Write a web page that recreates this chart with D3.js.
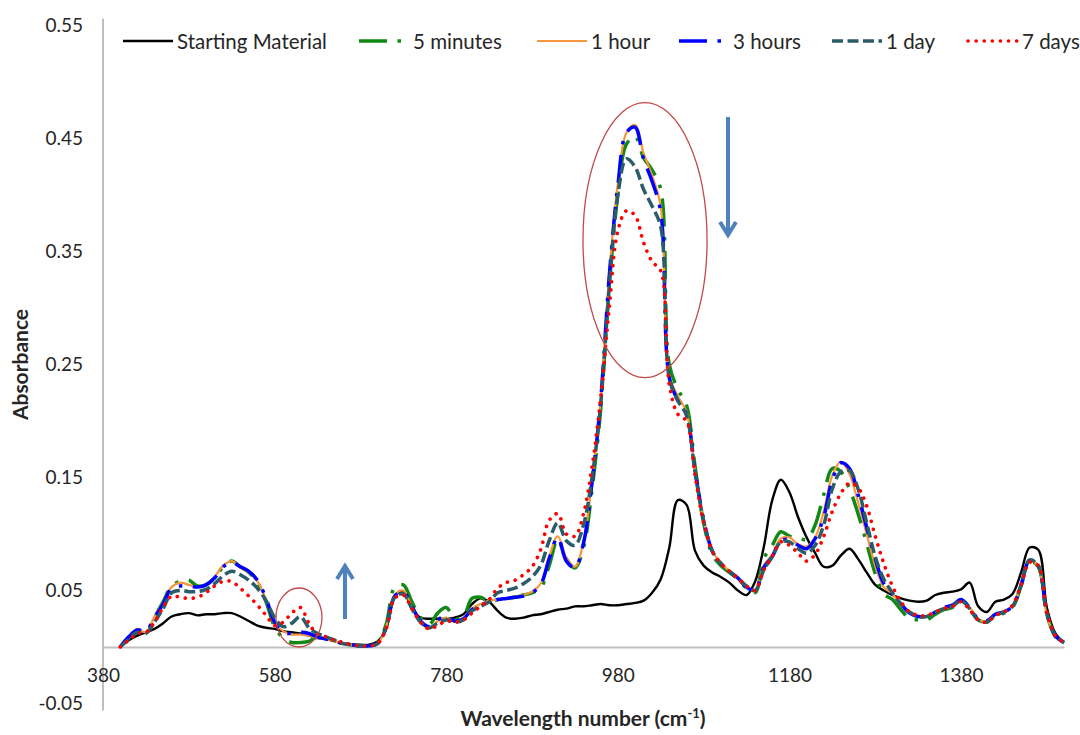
<!DOCTYPE html>
<html>
<head>
<meta charset="utf-8">
<script src="https://cdn.jsdelivr.net/npm/d3@7"></script>
<style>
  html, body { margin: 0; padding: 0; background: #ffffff; }
  svg { display: block; }
  text { font-family: Lato, "Open Sans", sans-serif; fill: #262626; }
</style>
</head>
<body>
<svg id="chart" width="1080" height="735"></svg>
<script>
// Wavenumber grid (cm-1) shared by every spectrum
const wavenumbers = [
  400, 410, 420, 430, 440, 450, 460, 470, 480, 490,
  500, 510, 520, 530, 540, 550, 560, 570, 580, 590,
  600, 610, 620, 630, 640, 650, 660, 670, 680, 690,
  700, 710, 720, 730, 740, 750, 760, 770, 780, 790,
  800, 810, 820, 830, 840, 850, 860, 870, 880, 890,
  900, 910, 920, 930, 940, 950, 960, 970, 980, 990,
  1000, 1010, 1020, 1030, 1040, 1050, 1060, 1070, 1080, 1090,
  1100, 1110, 1120, 1130, 1140, 1150, 1160, 1170, 1180, 1190,
  1200, 1210, 1220, 1230, 1240, 1250, 1260, 1270, 1280, 1290,
  1300, 1310, 1320, 1330, 1340, 1350, 1360, 1370, 1380, 1390,
  1400, 1410, 1420, 1430, 1440, 1450, 1460, 1470, 1480, 1490,
  1500
];

// Absorbance of each sample at the wavenumbers above
const startingMaterial = [
  0.000, 0.006, 0.010, 0.013, 0.016, 0.021, 0.027, 0.029, 0.030, 0.028,
  0.029, 0.029, 0.030, 0.030, 0.027, 0.023, 0.019, 0.017, 0.016, 0.014,
  0.013, 0.012, 0.010, 0.008, 0.007, 0.005, 0.003, 0.002, 0.002, 0.002,
  0.005, 0.016, 0.045, 0.049, 0.034, 0.026, 0.025, 0.025, 0.025, 0.026,
  0.029, 0.038, 0.043, 0.040, 0.032, 0.026, 0.025, 0.026, 0.028, 0.029,
  0.031, 0.033, 0.034, 0.036, 0.036, 0.037, 0.038, 0.037, 0.037, 0.038,
  0.039, 0.041, 0.048, 0.060, 0.088, 0.130, 0.126, 0.085, 0.072, 0.066,
  0.062, 0.057, 0.050, 0.046, 0.058, 0.088, 0.130, 0.148, 0.137, 0.115,
  0.097, 0.083, 0.071, 0.072, 0.081, 0.087, 0.078, 0.066, 0.055, 0.050,
  0.046, 0.043, 0.041, 0.040, 0.041, 0.046, 0.048, 0.049, 0.051, 0.057,
  0.036, 0.031, 0.040, 0.042, 0.047, 0.066, 0.088, 0.086, 0.035, 0.012,
  0.004
];

const fiveMinutes = [
  0.000, 0.008, 0.015, 0.013, 0.026, 0.040, 0.054, 0.058, 0.059, 0.054,
  0.055, 0.061, 0.071, 0.076, 0.071, 0.066, 0.057, 0.040, 0.018, 0.008,
  0.004, 0.004, 0.005, 0.009, 0.008, 0.005, 0.003, 0.002, 0.001, 0.001,
  0.004, 0.020, 0.053, 0.055, 0.040, 0.026, 0.020, 0.030, 0.035, 0.025,
  0.027, 0.043, 0.044, 0.040, 0.042, 0.043, 0.044, 0.046, 0.048, 0.052,
  0.072, 0.095, 0.078, 0.070, 0.088, 0.140, 0.210, 0.320, 0.400, 0.445,
  0.452, 0.433, 0.422, 0.405, 0.250, 0.228, 0.214, 0.160, 0.110, 0.082,
  0.072, 0.066, 0.060, 0.052, 0.048, 0.078, 0.090, 0.102, 0.098, 0.097,
  0.095, 0.108, 0.135, 0.158, 0.155, 0.140, 0.118, 0.092, 0.065, 0.047,
  0.042, 0.033, 0.025, 0.024, 0.024, 0.029, 0.033, 0.035, 0.041, 0.034,
  0.024, 0.022, 0.028, 0.030, 0.035, 0.054, 0.076, 0.071, 0.029, 0.009,
  0.004
];

const oneHour = [
  0.000, 0.008, 0.016, 0.013, 0.027, 0.039, 0.053, 0.057, 0.055, 0.053,
  0.055, 0.062, 0.072, 0.076, 0.070, 0.066, 0.058, 0.042, 0.021, 0.014,
  0.011, 0.011, 0.010, 0.008, 0.007, 0.005, 0.003, 0.002, 0.001, 0.001,
  0.003, 0.018, 0.046, 0.050, 0.035, 0.022, 0.016, 0.023, 0.026, 0.022,
  0.025, 0.034, 0.038, 0.041, 0.042, 0.043, 0.044, 0.046, 0.049, 0.056,
  0.080, 0.098, 0.079, 0.071, 0.093, 0.148, 0.218, 0.330, 0.410, 0.455,
  0.462, 0.437, 0.417, 0.390, 0.240, 0.222, 0.208, 0.155, 0.112, 0.085,
  0.075, 0.067, 0.061, 0.053, 0.050, 0.072, 0.082, 0.096, 0.097, 0.091,
  0.089, 0.097, 0.120, 0.152, 0.164, 0.153, 0.128, 0.100, 0.072, 0.053,
  0.047, 0.037, 0.030, 0.027, 0.027, 0.031, 0.034, 0.036, 0.042, 0.035,
  0.025, 0.022, 0.029, 0.031, 0.036, 0.055, 0.077, 0.071, 0.028, 0.009,
  0.004
];

const threeHours = [
  0.000, 0.009, 0.015, 0.014, 0.026, 0.038, 0.052, 0.054, 0.054, 0.053,
  0.055, 0.061, 0.071, 0.075, 0.071, 0.067, 0.059, 0.043, 0.022, 0.013,
  0.012, 0.013, 0.012, 0.009, 0.007, 0.005, 0.003, 0.002, 0.001, 0.001,
  0.003, 0.017, 0.045, 0.049, 0.036, 0.023, 0.018, 0.024, 0.027, 0.023,
  0.025, 0.033, 0.037, 0.040, 0.042, 0.043, 0.044, 0.045, 0.048, 0.055,
  0.078, 0.097, 0.076, 0.070, 0.092, 0.146, 0.218, 0.328, 0.408, 0.455,
  0.460, 0.432, 0.412, 0.385, 0.238, 0.218, 0.206, 0.156, 0.113, 0.085,
  0.074, 0.067, 0.061, 0.053, 0.050, 0.070, 0.080, 0.094, 0.095, 0.090,
  0.087, 0.096, 0.115, 0.148, 0.163, 0.158, 0.135, 0.106, 0.078, 0.056,
  0.047, 0.038, 0.030, 0.027, 0.027, 0.031, 0.035, 0.037, 0.042, 0.035,
  0.025, 0.023, 0.029, 0.031, 0.036, 0.055, 0.077, 0.072, 0.030, 0.010,
  0.004
];

const oneDay = [
  0.000, 0.007, 0.013, 0.012, 0.022, 0.034, 0.048, 0.050, 0.049, 0.049,
  0.051, 0.056, 0.063, 0.067, 0.064, 0.059, 0.052, 0.041, 0.026, 0.018,
  0.021, 0.027, 0.017, 0.012, 0.009, 0.006, 0.003, 0.002, 0.001, 0.001,
  0.003, 0.017, 0.044, 0.047, 0.034, 0.022, 0.017, 0.021, 0.024, 0.022,
  0.024, 0.032, 0.036, 0.040, 0.048, 0.050, 0.052, 0.056, 0.062, 0.072,
  0.094, 0.110, 0.094, 0.090, 0.108, 0.150, 0.215, 0.318, 0.400, 0.432,
  0.425, 0.405, 0.390, 0.372, 0.238, 0.218, 0.205, 0.155, 0.112, 0.085,
  0.074, 0.067, 0.061, 0.054, 0.050, 0.068, 0.080, 0.093, 0.093, 0.087,
  0.083, 0.090, 0.108, 0.140, 0.155, 0.156, 0.140, 0.110, 0.080, 0.060,
  0.048, 0.038, 0.031, 0.027, 0.027, 0.031, 0.034, 0.036, 0.041, 0.034,
  0.024, 0.022, 0.028, 0.031, 0.036, 0.055, 0.077, 0.072, 0.030, 0.010,
  0.004
];

const sevenDays = [
  0.000, 0.006, 0.012, 0.013, 0.022, 0.035, 0.045, 0.044, 0.043, 0.044,
  0.048, 0.054, 0.058, 0.058, 0.052, 0.045, 0.037, 0.028, 0.019, 0.022,
  0.030, 0.035, 0.021, 0.011, 0.009, 0.006, 0.004, 0.002, 0.001, 0.001,
  0.003, 0.016, 0.043, 0.046, 0.034, 0.022, 0.016, 0.019, 0.023, 0.022,
  0.024, 0.030, 0.036, 0.042, 0.052, 0.057, 0.059, 0.064, 0.071, 0.086,
  0.112, 0.118, 0.100, 0.098, 0.118, 0.160, 0.220, 0.300, 0.368, 0.386,
  0.382, 0.358, 0.341, 0.333, 0.232, 0.206, 0.200, 0.152, 0.110, 0.085,
  0.074, 0.067, 0.061, 0.054, 0.050, 0.068, 0.080, 0.093, 0.090, 0.083,
  0.076, 0.082, 0.098, 0.120, 0.136, 0.145, 0.141, 0.125, 0.098, 0.074,
  0.054, 0.040, 0.031, 0.028, 0.028, 0.031, 0.034, 0.036, 0.040, 0.033,
  0.024, 0.022, 0.028, 0.031, 0.037, 0.055, 0.075, 0.072, 0.031, 0.010,
  0.004
];

const seriesNames = ["Starting Material", "5 minutes", "1 hour", "3 hours", "1 day", "7 days"];
const seriesValues = [startingMaterial, fiveMinutes, oneHour, threeHours, oneDay, sevenDays];

// Axis ticks
const xTickValues = [380, 580, 780, 980, 1180, 1380];
const yTickValues = [-0.05, 0.05, 0.15, 0.25, 0.35, 0.45, 0.55];

// Line styles per series
const seriesStyles = [
  { color: "#000000", width: 2.4, dash: null, cap: "butt" },
  { color: "#118A15", width: 3.5, dash: "28 10.5 3.5 10.5", cap: "butt" },
  { color: "#F7963F", width: 2.2, dash: null, cap: "butt" },
  { color: "#0000FF", width: 3.5, dash: "28 10.5 3.5 10.5", cap: "butt" },
  { color: "#2B5C69", width: 3.5, dash: "11 4.5", cap: "butt" },
  { color: "#FF0000", width: 3.6, dash: "0.1 8", cap: "round" }
];

// Highlight ellipses (centre wavenumber, centre absorbance, half-width in cm-1, half-height in absorbance)
const highlightEllipses = [
  { cx: 1011.7, cy: 0.360, rx: 72.3, ry: 0.1217 },
  { cx: 608.4, cy: 0.0261, rx: 26.8, ry: 0.0261 }
];
// Trend arrows (wavenumber, start absorbance, end absorbance)
const trendArrows = [
  { at: 1108.4, from: 0.469, to: 0.3646 },
  { at: 662.0, from: 0.0248, to: 0.0717 }
];

const svg = d3.select("#chart");

const x = d3.scaleLinear().domain([380, 1500]).range([103, 1064]);
const y = d3.scaleLinear().domain([-0.05, 0.55]).range([703.5, 25.5]);

const axisColor = "#BFBFBF";
const fmt2 = d3.format(".2f");

// Vertical axis line, running a little past the end ticks
svg.append("line")
  .attr("x1", x(380)).attr("x2", x(380))
  .attr("y1", y(0.55) - 7).attr("y2", y(-0.05) + 7)
  .attr("stroke", axisColor).attr("stroke-width", 2);

// Vertical axis value labels
const yAxis = svg.append("g")
  .attr("transform", `translate(${x(380)},0)`)
  .call(d3.axisLeft(y).tickValues(yTickValues).tickSize(0).tickSizeOuter(0)
    .tickPadding(20).tickFormat(d => fmt2(d).replace("\u2212", "-")));
yAxis.select(".domain").remove();
yAxis.selectAll(".tick text").style("font-size", "19px").style("font-family", "Lato, sans-serif").attr("fill", "#262626");

// Horizontal axis crossing at zero absorbance
const xAxis = svg.append("g")
  .attr("transform", `translate(0,${y(0)})`)
  .call(d3.axisBottom(x).tickValues(xTickValues).tickSize(0).tickSizeOuter(0)
    .tickPadding(22).tickFormat(d3.format("d")));
xAxis.select(".domain").attr("stroke", axisColor).attr("stroke-width", 2);
xAxis.selectAll(".tick text").style("font-size", "19px").style("font-family", "Lato, sans-serif").attr("fill", "#262626");

// Axis titles
svg.append("text")
  .attr("transform", `translate(19,${(y(0.55) + y(-0.05)) / 2}) rotate(-90)`)
  .attr("text-anchor", "middle")
  .attr("dominant-baseline", "central")
  .style("font-size", "21px")
  .style("font-weight", "bold")
  .text("Absorbance");

const xTitle = svg.append("text")
  .attr("x", 583)
  .attr("y", 726)
  .attr("text-anchor", "middle")
  .style("font-size", "21px")
  .style("font-weight", "bold");
xTitle.append("tspan").text("Wavelength number (cm");
xTitle.append("tspan").attr("dy", -8).style("font-size", "13px").text("-1");
xTitle.append("tspan").attr("dy", 8).text(")");

// Spectra
const line = d3.line()
  .x(d => x(d[0]))
  .y(d => y(d[1]))
  .curve(d3.curveCatmullRom.alpha(0.5));

const plot = svg.append("g");
seriesValues.forEach((vals, i) => {
  const st = seriesStyles[i];
  plot.append("path")
    .datum(wavenumbers.map((w, j) => [w, vals[j]]))
    .attr("fill", "none")
    .attr("stroke", st.color)
    .attr("stroke-width", st.width)
    .attr("stroke-linecap", st.cap)
    .attr("stroke-linejoin", "round")
    .attr("stroke-dasharray", st.dash)
    .attr("d", line);
});

// Highlight ellipses
svg.append("g").selectAll("ellipse")
  .data(highlightEllipses)
  .join("ellipse")
  .attr("cx", d => x(d.cx))
  .attr("cy", d => y(d.cy))
  .attr("rx", d => x(d.cx + d.rx) - x(d.cx))
  .attr("ry", d => y(d.cy - d.ry) - y(d.cy))
  .attr("fill", "none")
  .attr("stroke", "#BE4B48")
  .attr("stroke-width", 1.3);

// Trend arrows
const arrowColor = "#4F81BD";
trendArrows.forEach(a => {
  const px = x(a.at), y0 = y(a.from), y1 = y(a.to);
  const dir = Math.sign(y1 - y0);
  const g = svg.append("g")
    .attr("fill", "none")
    .attr("stroke", arrowColor)
    .attr("stroke-width", 4)
    .attr("stroke-linecap", "butt");
  g.append("line").attr("x1", px).attr("x2", px).attr("y1", y0).attr("y2", y1 - dir * 2);
  g.append("path")
    .attr("stroke-linejoin", "miter")
    .attr("d", `M${px - 8},${y1 - dir * 13}L${px},${y1}L${px + 8},${y1 - dir * 13}`);
});

// Legend across the top
const legendX = [123, 359, 537, 679, 832, 968];
const legendY = 41;
const legend = svg.append("g");
seriesNames.forEach((name, i) => {
  const st = seriesStyles[i];
  const x0 = legendX[i];
  legend.append("line")
    .attr("x1", x0).attr("x2", x0 + 50)
    .attr("y1", legendY).attr("y2", legendY)
    .attr("stroke", st.color)
    .attr("stroke-width", st.width)
    .attr("stroke-linecap", st.cap)
    .attr("stroke-dasharray", st.dash);
  legend.append("text")
    .attr("x", x0 + 54)
    .attr("y", legendY + 8)
    .style("font-size", "20.5px")
    .text(name);
});
</script>
</body>
</html>
